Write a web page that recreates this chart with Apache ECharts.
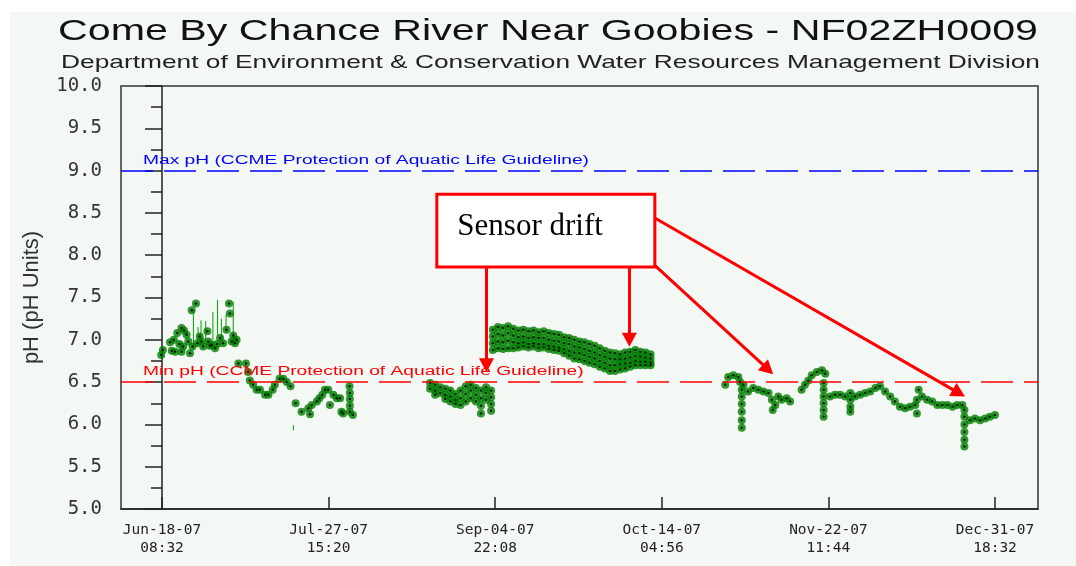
<!DOCTYPE html>
<html>
<head>
<meta charset="utf-8">
<script src="https://cdn.jsdelivr.net/npm/echarts@6/dist/echarts.min.js"></script>
<style>
  html, body { margin: 0; padding: 0; background: #fff; }
  #chart { width: 1076px; height: 566px; }
</style>
</head>
<body>
<div id="chart"></div>
<script>
// x values are days after Jun-18-07 08:32
var tickDays = [0, 39.283, 78.567, 117.85, 157.133, 196.417];
var tickDates = ["Jun-18-07", "Jul-27-07", "Sep-04-07", "Oct-14-07", "Nov-22-07", "Dec-31-07"];
var tickTimes = ["08:32", "15:20", "22:08", "04:56", "11:44", "18:32"];
var xMin = -9.67, xMax = 206.55;

var maxPH = 9.0, minPH = 6.5;
var maxLabel = "Max pH (CCME Protection of Aquatic Life Guideline)";
var minLabel = "Min pH (CCME Protection of Aquatic Life Guideline)";

var junJulPoints = [
  [-0.2, 6.82], [0.2, 6.88], [1.9, 6.97], [2.3, 6.87], [2.8, 7.0], [3.1, 6.86], [3.6, 7.08],
  [4.1, 6.95], [4.6, 7.14], [4.6, 6.86], [5.0, 6.92], [5.2, 7.11], [5.8, 7.06], [6.2, 6.98],
  [6.6, 6.84], [7.0, 7.35], [7.2, 6.92], [8.0, 7.43], [8.3, 6.96], [8.9, 7.04], [9.3, 6.98],
  [9.7, 6.92], [10.7, 7.1], [10.9, 6.98], [11.3, 6.93], [11.7, 6.94], [12.5, 6.9], [13.0, 6.95],
  [13.7, 7.02], [14.4, 6.96], [15.2, 7.12], [15.8, 7.43], [16.0, 7.31], [16.4, 6.98],
  [16.8, 7.05], [17.2, 6.96], [17.6, 7.0]
];
// day, low, high of the fast swings
var junJulSpikes = [
  [7.4, 6.88, 7.35], [8.5, 6.95, 7.15], [9.2, 6.95, 7.23], [10.3, 6.98, 7.22], [12.0, 6.96, 7.33],
  [13.1, 7.05, 7.47], [14.0, 7.0, 7.25], [15.1, 7.08, 7.3], [16.8, 6.98, 7.45], [31.0, 5.93, 5.99]
];
var julAugPoints = [
  [18.0, 6.72], [19.8, 6.72], [20.3, 6.62], [20.7, 6.52], [21.5, 6.47], [22.3, 6.41], [23.1, 6.41],
  [24.3, 6.35], [25.1, 6.35], [26.1, 6.41], [26.6, 6.47], [27.7, 6.54], [28.6, 6.54], [29.4, 6.5],
  [30.3, 6.45], [31.5, 6.25], [32.9, 6.15], [34.5, 6.19], [34.9, 6.12], [35.3, 6.23], [36.5, 6.27],
  [37.1, 6.31], [37.8, 6.35], [38.4, 6.41], [39.2, 6.41], [39.6, 6.23], [40.4, 6.35], [41.2, 6.31],
  [42.0, 6.31], [42.3, 6.15], [42.7, 6.13], [44.2, 6.45], [44.3, 6.37], [44.3, 6.3], [44.3, 6.22],
  [44.3, 6.15], [45.0, 6.11]
];
// day followed by the readings stacked at that time
var augSepColumns = [
  [63.2, 6.49, 6.42], [64.4, 6.47, 6.4, 6.35], [65.6, 6.44, 6.37], [66.8, 6.42, 6.35, 6.3],
  [68.0, 6.4, 6.33, 6.27], [69.2, 6.36, 6.29, 6.24], [70.4, 6.4, 6.31, 6.23], [71.6, 6.45, 6.36, 6.27],
  [72.8, 6.47, 6.4, 6.31], [74.0, 6.43, 6.35, 6.27], [75.2, 6.4, 6.31, 6.22, 6.13],
  [76.4, 6.44, 6.37, 6.29], [77.6, 6.4, 6.32, 6.24, 6.16]
];
var sepOctColumns = [
  [78.0, 7.12, 7.04, 6.96, 6.88], [79.2, 7.15, 7.07, 6.98, 6.9], [80.4, 7.14, 7.05, 6.97, 6.89],
  [81.6, 7.16, 7.08, 6.99, 6.9], [82.8, 7.13, 7.05, 6.97, 6.9], [84.0, 7.11, 7.03, 6.96, 6.91],
  [85.2, 7.12, 7.04, 6.97, 6.92], [86.4, 7.1, 7.02, 6.95, 6.91], [87.6, 7.11, 7.03, 6.96, 6.92],
  [88.8, 7.09, 7.02, 6.95, 6.9], [90.0, 7.1, 7.02, 6.95, 6.91], [91.2, 7.08, 7.0, 6.93, 6.89],
  [92.4, 7.07, 6.99, 6.92, 6.88], [93.6, 7.06, 6.98, 6.91, 6.87], [94.8, 7.03, 6.96, 6.89, 6.84],
  [96.0, 7.02, 6.95, 6.87, 6.81], [97.2, 7.0, 6.92, 6.85, 6.78], [98.4, 6.98, 6.91, 6.84, 6.77],
  [99.6, 6.97, 6.89, 6.82, 6.75], [100.8, 6.95, 6.87, 6.8, 6.73], [102.0, 6.93, 6.85, 6.78, 6.71],
  [103.2, 6.9, 6.82, 6.75, 6.68], [104.4, 6.87, 6.8, 6.73, 6.66], [105.6, 6.85, 6.78, 6.7, 6.63],
  [106.8, 6.84, 6.77, 6.7, 6.63], [108.0, 6.83, 6.77, 6.71, 6.65], [109.2, 6.85, 6.78, 6.72, 6.66],
  [110.4, 6.86, 6.79, 6.73, 6.68], [111.6, 6.88, 6.81, 6.75, 6.7], [112.8, 6.86, 6.8, 6.74, 6.7],
  [114.0, 6.85, 6.79, 6.74, 6.7], [115.2, 6.83, 6.78, 6.73, 6.7]
];
var octNovPoints = [
  [132.8, 6.47], [133.5, 6.56], [134.7, 6.58], [135.9, 6.56], [136.3, 6.5], [137.1, 6.47],
  [136.7, 6.41], [136.7, 6.33], [136.7, 6.24], [136.7, 6.15], [136.7, 6.05], [136.7, 5.96],
  [138.2, 6.39], [139.4, 6.43], [140.6, 6.41], [141.8, 6.39], [143.0, 6.37], [143.8, 6.29],
  [144.0, 6.17], [144.6, 6.23], [145.3, 6.33], [146.1, 6.29], [147.3, 6.31], [148.1, 6.27]
];
var novDecPoints = [
  [150.8, 6.41], [151.6, 6.47], [152.4, 6.52], [153.2, 6.58], [154.4, 6.62], [155.6, 6.64], [156.4, 6.6],
  [156.0, 6.49], [156.0, 6.41], [156.0, 6.33], [156.0, 6.25], [156.0, 6.17], [156.0, 6.09],
  [157.5, 6.33], [158.7, 6.35], [159.9, 6.35], [161.1, 6.33], [162.3, 6.37], [162.3, 6.29],
  [162.3, 6.21], [162.3, 6.15], [163.4, 6.33], [164.6, 6.35], [165.8, 6.37], [167.0, 6.39],
  [168.2, 6.43], [169.3, 6.45], [170.5, 6.39], [171.7, 6.33], [172.8, 6.27], [174.0, 6.21],
  [175.2, 6.19], [176.4, 6.21], [177.6, 6.23], [178.0, 6.29], [178.0, 6.13], [178.4, 6.41],
  [179.2, 6.33], [180.4, 6.29], [181.6, 6.27], [182.8, 6.23], [184.0, 6.23], [185.2, 6.23],
  [186.4, 6.21], [187.5, 6.23], [188.7, 6.23], [189.2, 6.17], [189.2, 6.09], [189.2, 6.0],
  [189.2, 5.91], [189.2, 5.82], [189.2, 5.74], [190.5, 6.05], [191.7, 6.07], [192.9, 6.05],
  [194.1, 6.07], [195.2, 6.09], [196.4, 6.11]
];

// "Sensor drift" annotation, in data units
var driftBox = [[64.8, 8.72], [116.2, 7.86]];
var driftArrows = [
  [[76.5, 7.86], [76.5, 6.7]],
  [[110.2, 7.86], [110.2, 7.0]],
  [[116.2, 7.88], [142.9, 6.65]],
  [[116.2, 8.44], [187.9, 6.37]]
];

function expandColumns(cols) {
  var out = [];
  cols.forEach(function (c) {
    for (var i = 1; i < c.length; i++) out.push([c[0], c[i]]);
  });
  return out;
}

var allPoints = junJulPoints.concat(julAugPoints, expandColumns(augSepColumns),
  expandColumns(sepOctColumns), octNovPoints, novDecPoints);

var spikeLine = [];
junJulSpikes.forEach(function (s) {
  spikeLine.push([s[0], s[1]], [s[0], s[2]], [s[0], "-"]);
});

// the source picture is stretched sideways, so text is widened to fit
var measureCtx = document.createElement("canvas").getContext("2d");
function widen(text, font, target) {
  measureCtx.font = font;
  return target / measureCtx.measureText(text).width;
}

var titleText = "Come By Chance River Near Goobies - NF02ZH0009";
var subText = "Department of Environment & Conservation Water Resources Management Division";
var titleFont = '30px "Liberation Sans"';
var subFont = '19px "Liberation Sans"';
var guideFont = '12px "Liberation Sans"';
var guideScale = widen(maxLabel, guideFont, 446);

var dom = document.getElementById("chart");
var myChart = echarts.init(dom);
var option = {
  backgroundColor: "#ffffff",
  animation: false,
  graphic: [
    { type: "rect", z: -10, silent: true, shape: { x: 10, y: 12, width: 1066, height: 554 },
      style: { fill: "#f4f8f5" } },
    { type: "text", z: 100, x: 58, y: 32, scaleX: widen(titleText, titleFont, 980),
      style: { text: titleText, font: titleFont, fill: "#111", verticalAlign: "middle" } },
    { type: "text", z: 100, x: 61, y: 63, scaleX: widen(subText, subFont, 979),
      style: { text: subText, font: subFont, fill: "#222", verticalAlign: "middle" } },
    { type: "text", z: 100, x: 143, y: 161, scaleX: guideScale,
      style: { text: maxLabel, font: guideFont, fill: "#0000ff", verticalAlign: "middle" } },
    { type: "text", z: 100, x: 143, y: 372, scaleX: guideScale,
      style: { text: minLabel, font: guideFont, fill: "#ff0000", verticalAlign: "middle" } }
  ],
  grid: { left: 121, right: 38, top: 86, bottom: 57, show: true, borderColor: "#333", borderWidth: 1.5 },
  xAxis: {
    type: "value",
    min: xMin,
    max: xMax,
    axisLine: { lineStyle: { color: "#222", width: 1.5 } },
    axisTick: { inside: true, length: 12, customValues: tickDays, lineStyle: { color: "#222", width: 1.5 } },
    axisLabel: {
      customValues: tickDays,
      formatter: function (v) {
        var i = 0;
        tickDays.forEach(function (t, k) { if (Math.abs(t - v) < Math.abs(tickDays[i] - v)) i = k; });
        return tickDates[i] + "\n" + tickTimes[i];
      },
      fontFamily: "DejaVu Sans Mono",
      fontSize: 14.5,
      lineHeight: 18,
      color: "#222",
      margin: 12
    },
    splitLine: { show: false }
  },
  yAxis: {
    type: "value",
    min: 5,
    max: 10,
    interval: 0.5,
    name: "pH (pH Units)",
    nameLocation: "middle",
    nameRotate: 90,
    nameGap: 78,
    nameTextStyle: { fontFamily: "Liberation Sans", fontSize: 22, color: "#333" },
    axisLine: { show: true, lineStyle: { color: "#222", width: 1.5 } },
    axisTick: { length: 17, lineStyle: { color: "#222", width: 1.5 } },
    minorTick: { show: true, splitNumber: 2, length: 11, lineStyle: { color: "#222", width: 1.5 } },
    axisLabel: {
      formatter: function (v) { return v.toFixed(1); },
      fontFamily: "DejaVu Sans Mono",
      fontSize: 19,
      color: "#333",
      margin: 19
    },
    splitLine: { show: false }
  },
  series: [
    {
      name: "swings",
      type: "line",
      data: spikeLine,
      showSymbol: false,
      connectNulls: false,
      lineStyle: { color: "#00a000", width: 1 },
      z: 3,
      markLine: {
        silent: true,
        symbol: "none",
        label: { show: false },
        lineStyle: { type: [32, 11], width: 1.6 },
        data: [
          { yAxis: maxPH, lineStyle: { color: "#0000ff" } },
          { yAxis: minPH, lineStyle: { color: "#ff0000" } }
        ]
      }
    },
    {
      name: "pH",
      type: "scatter",
      data: allPoints,
      symbolSize: 8,
      itemStyle: { color: "#008000" },
      z: 4
    },
    {
      name: "pH core",
      type: "scatter",
      data: allPoints,
      symbolSize: 2.5,
      itemStyle: { color: "#000" },
      z: 5,
      markArea: {
        silent: true,
        itemStyle: { color: "#ffffff", borderColor: "#ff0000", borderWidth: 3 },
        label: {
          show: true,
          position: "insideLeft",
          distance: 22,
          offset: [0, -4],
          fontFamily: "Liberation Serif",
          fontSize: 31,
          color: "#000"
        },
        data: [[{ coord: driftBox[0], name: "Sensor drift" }, { coord: driftBox[1] }]]
      },
      markLine: {
        silent: true,
        symbol: ["none", "triangle"],
        symbolSize: [15, 14],
        label: { show: false },
        lineStyle: { color: "#ff0000", width: 3, type: "solid" },
        data: driftArrows.map(function (a) {
          return [{ coord: a[0] }, { coord: a[1] }];
        })
      }
    }
  ]
};
myChart.setOption(option);
</script>
</body>
</html>
